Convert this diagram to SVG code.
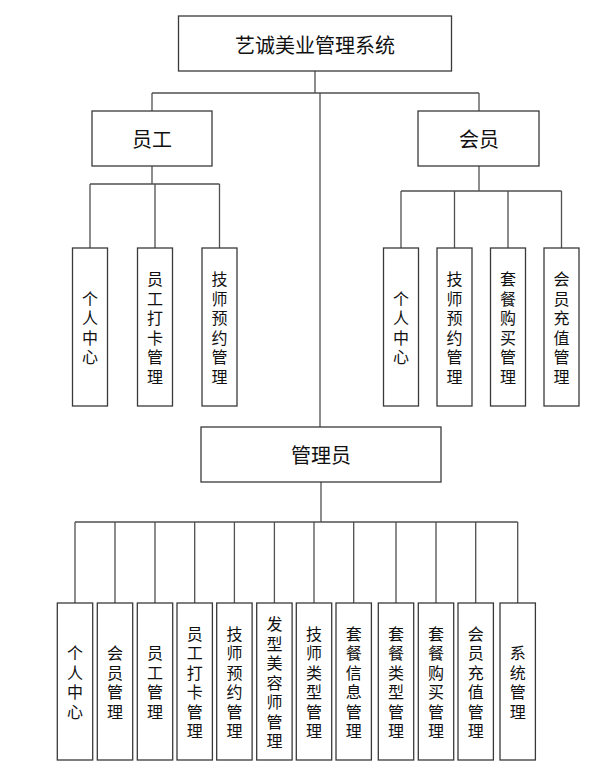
<svg xmlns="http://www.w3.org/2000/svg" width="611" height="780" viewBox="0 0 611 780">
<style>
.box{fill:#fff;stroke:#3a3a3a;stroke-width:1.3}
.ln{fill:none;stroke:#505050;stroke-width:1.3}
.t{font-family:"Noto Sans CJK SC","Liberation Sans",sans-serif;fill:#111;text-anchor:middle;dominant-baseline:central}
.big{font-size:20px}
.v{font-size:16px}
</style>
<rect width="611" height="780" fill="#fff"/>
<g id="connectors">
<path class="ln" d="M315,71V93M152,93H479M152,93V111M479,93V111M320,93V427"/>
<path class="ln" d="M152,166V184M90,184H219.5M90,184V248M155,184V248M219.5,184V248"/>
<path class="ln" d="M479,166V191M401,191H561.5M401,191V248M454.5,191V248M508,191V248M561.5,191V248"/>
<path class="ln" d="M321,482V522M75,522H517.7M75,522V603M115,522V603M155,522V603M194.7,522V603M234.4,522V603M274.4,522V603M314,522V603M353.7,522V603M396,522V603M436,522V603M475.7,522V603M517.7,522V603"/>
</g>
<g id="root"><rect class="box" x="178.5" y="16" width="273" height="55"/><text class="t big" x="315" y="44">艺诚美业管理系统</text></g>
<g id="staff"><rect class="box" x="92" y="111" width="120" height="55"/><text class="t big" x="152" y="138.5">员工</text></g>
<g id="member"><rect class="box" x="418" y="111" width="121" height="55"/><text class="t big" x="479" y="138.5">会员</text></g>
<g id="admin"><rect class="box" x="201" y="427" width="240" height="55"/><text class="t big" x="321" y="454.5">管理员</text></g>

<g id="s1"><rect class="box" x="72.5" y="248" width="35" height="158"/><text class="t v"><tspan x="90" y="297.75">个</tspan><tspan x="90" y="317.25">人</tspan><tspan x="90" y="336.75">中</tspan><tspan x="90" y="356.25">心</tspan></text></g>
<g id="s2"><rect class="box" x="137.5" y="248" width="35" height="158"/><text class="t v"><tspan x="155" y="278.25">员</tspan><tspan x="155" y="297.75">工</tspan><tspan x="155" y="317.25">打</tspan><tspan x="155" y="336.75">卡</tspan><tspan x="155" y="356.25">管</tspan><tspan x="155" y="375.75">理</tspan></text></g>
<g id="s3"><rect class="box" x="202" y="248" width="35" height="158"/><text class="t v"><tspan x="219.5" y="278.25">技</tspan><tspan x="219.5" y="297.75">师</tspan><tspan x="219.5" y="317.25">预</tspan><tspan x="219.5" y="336.75">约</tspan><tspan x="219.5" y="356.25">管</tspan><tspan x="219.5" y="375.75">理</tspan></text></g>

<g id="m1"><rect class="box" x="383.5" y="248" width="35" height="158"/><text class="t v"><tspan x="401" y="297.75">个</tspan><tspan x="401" y="317.25">人</tspan><tspan x="401" y="336.75">中</tspan><tspan x="401" y="356.25">心</tspan></text></g>
<g id="m2"><rect class="box" x="437" y="248" width="35" height="158"/><text class="t v"><tspan x="454.5" y="278.25">技</tspan><tspan x="454.5" y="297.75">师</tspan><tspan x="454.5" y="317.25">预</tspan><tspan x="454.5" y="336.75">约</tspan><tspan x="454.5" y="356.25">管</tspan><tspan x="454.5" y="375.75">理</tspan></text></g>
<g id="m3"><rect class="box" x="490.5" y="248" width="35" height="158"/><text class="t v"><tspan x="508" y="278.25">套</tspan><tspan x="508" y="297.75">餐</tspan><tspan x="508" y="317.25">购</tspan><tspan x="508" y="336.75">买</tspan><tspan x="508" y="356.25">管</tspan><tspan x="508" y="375.75">理</tspan></text></g>
<g id="m4"><rect class="box" x="544" y="248" width="35" height="158"/><text class="t v"><tspan x="561.5" y="278.25">会</tspan><tspan x="561.5" y="297.75">员</tspan><tspan x="561.5" y="317.25">充</tspan><tspan x="561.5" y="336.75">值</tspan><tspan x="561.5" y="356.25">管</tspan><tspan x="561.5" y="375.75">理</tspan></text></g>

<g id="a1"><rect class="box" x="57.3" y="603" width="35.4" height="157"/><text class="t v"><tspan x="75" y="652.25">个</tspan><tspan x="75" y="671.75">人</tspan><tspan x="75" y="691.25">中</tspan><tspan x="75" y="710.75">心</tspan></text></g>
<g id="a2"><rect class="box" x="97.3" y="603" width="35.4" height="157"/><text class="t v"><tspan x="115" y="652.25">会</tspan><tspan x="115" y="671.75">员</tspan><tspan x="115" y="691.25">管</tspan><tspan x="115" y="710.75">理</tspan></text></g>
<g id="a3"><rect class="box" x="137.3" y="603" width="35.4" height="157"/><text class="t v"><tspan x="155" y="652.25">员</tspan><tspan x="155" y="671.75">工</tspan><tspan x="155" y="691.25">管</tspan><tspan x="155" y="710.75">理</tspan></text></g>
<g id="a4"><rect class="box" x="177" y="603" width="35.4" height="157"/><text class="t v"><tspan x="194.7" y="632.75">员</tspan><tspan x="194.7" y="652.25">工</tspan><tspan x="194.7" y="671.75">打</tspan><tspan x="194.7" y="691.25">卡</tspan><tspan x="194.7" y="710.75">管</tspan><tspan x="194.7" y="730.25">理</tspan></text></g>
<g id="a5"><rect class="box" x="216.7" y="603" width="35.4" height="157"/><text class="t v"><tspan x="234.4" y="632.75">技</tspan><tspan x="234.4" y="652.25">师</tspan><tspan x="234.4" y="671.75">预</tspan><tspan x="234.4" y="691.25">约</tspan><tspan x="234.4" y="710.75">管</tspan><tspan x="234.4" y="730.25">理</tspan></text></g>
<g id="a6"><rect class="box" x="256.7" y="603" width="35.4" height="157"/><text class="t v"><tspan x="274.4" y="623">发</tspan><tspan x="274.4" y="642.5">型</tspan><tspan x="274.4" y="662">美</tspan><tspan x="274.4" y="681.5">容</tspan><tspan x="274.4" y="701">师</tspan><tspan x="274.4" y="720.5">管</tspan><tspan x="274.4" y="740">理</tspan></text></g>
<g id="a7"><rect class="box" x="296.3" y="603" width="35.4" height="157"/><text class="t v"><tspan x="314" y="632.75">技</tspan><tspan x="314" y="652.25">师</tspan><tspan x="314" y="671.75">类</tspan><tspan x="314" y="691.25">型</tspan><tspan x="314" y="710.75">管</tspan><tspan x="314" y="730.25">理</tspan></text></g>
<g id="a8"><rect class="box" x="336" y="603" width="35.4" height="157"/><text class="t v"><tspan x="353.7" y="632.75">套</tspan><tspan x="353.7" y="652.25">餐</tspan><tspan x="353.7" y="671.75">信</tspan><tspan x="353.7" y="691.25">息</tspan><tspan x="353.7" y="710.75">管</tspan><tspan x="353.7" y="730.25">理</tspan></text></g>
<g id="a9"><rect class="box" x="378.3" y="603" width="35.4" height="157"/><text class="t v"><tspan x="396" y="632.75">套</tspan><tspan x="396" y="652.25">餐</tspan><tspan x="396" y="671.75">类</tspan><tspan x="396" y="691.25">型</tspan><tspan x="396" y="710.75">管</tspan><tspan x="396" y="730.25">理</tspan></text></g>
<g id="a10"><rect class="box" x="418.3" y="603" width="35.4" height="157"/><text class="t v"><tspan x="436" y="632.75">套</tspan><tspan x="436" y="652.25">餐</tspan><tspan x="436" y="671.75">购</tspan><tspan x="436" y="691.25">买</tspan><tspan x="436" y="710.75">管</tspan><tspan x="436" y="730.25">理</tspan></text></g>
<g id="a11"><rect class="box" x="458" y="603" width="35.4" height="157"/><text class="t v"><tspan x="475.7" y="632.75">会</tspan><tspan x="475.7" y="652.25">员</tspan><tspan x="475.7" y="671.75">充</tspan><tspan x="475.7" y="691.25">值</tspan><tspan x="475.7" y="710.75">管</tspan><tspan x="475.7" y="730.25">理</tspan></text></g>
<g id="a12"><rect class="box" x="500" y="603" width="35.4" height="157"/><text class="t v"><tspan x="517.7" y="652.25">系</tspan><tspan x="517.7" y="671.75">统</tspan><tspan x="517.7" y="691.25">管</tspan><tspan x="517.7" y="710.75">理</tspan></text></g>
</svg>
